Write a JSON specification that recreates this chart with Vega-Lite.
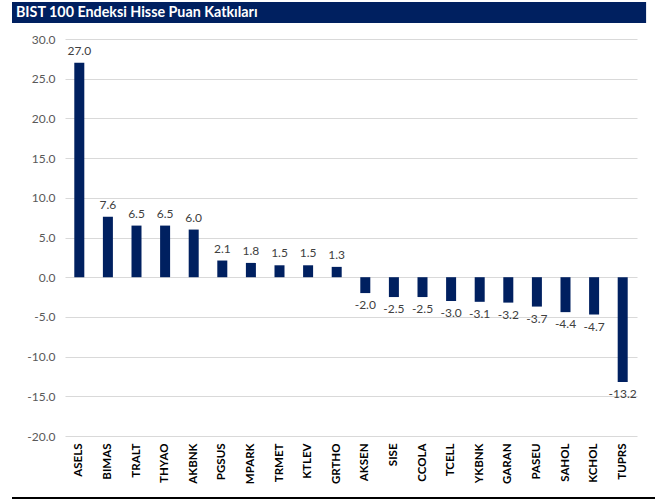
{
  "$schema": "https://vega.github.io/schema/vega-lite/v6.json",
  "background": "white",
  "padding": {"left": 12, "top": 2, "right": 12, "bottom": 1},
  "config": {
    "font": "Lato",
    "view": {"stroke": null},
    "locale": {"number": {"decimal": ".", "thousands": ",", "grouping": [3], "currency": ["$", ""], "minus": "-"}}
  },
  "datasets": {
    "bars": [
      {"hisse": "ASELS", "katki": 27.0},
      {"hisse": "BIMAS", "katki": 7.6},
      {"hisse": "TRALT", "katki": 6.5},
      {"hisse": "THYAO", "katki": 6.5},
      {"hisse": "AKBNK", "katki": 6.0},
      {"hisse": "PGSUS", "katki": 2.1},
      {"hisse": "MPARK", "katki": 1.8},
      {"hisse": "TRMET", "katki": 1.5},
      {"hisse": "KTLEV", "katki": 1.5},
      {"hisse": "GRTHO", "katki": 1.3},
      {"hisse": "AKSEN", "katki": -2.0},
      {"hisse": "SISE", "katki": -2.5},
      {"hisse": "CCOLA", "katki": -2.5},
      {"hisse": "TCELL", "katki": -3.0},
      {"hisse": "YKBNK", "katki": -3.1},
      {"hisse": "GARAN", "katki": -3.2},
      {"hisse": "PASEU", "katki": -3.7},
      {"hisse": "SAHOL", "katki": -4.4},
      {"hisse": "KCHOL", "katki": -4.7},
      {"hisse": "TUPRS", "katki": -13.2}
    ],
    "banner": [{"t": "BIST 100 Endeksi Hisse Puan Katkıları", "x0": 0, "x1": 642, "xt": 4}],
    "footer": [{"x0": 0, "x1": 643, "y0": 0, "y1": 2}]
  },
  "concat": [
    {
      "width": 589,
      "height": 21,
      "data": {"name": "banner"},
      "layer": [
        {
          "mark": {"type": "rect", "color": "#002060"},
          "encoding": {
            "x": {"field": "x0", "type": "quantitative", "scale": {"domain": [0, 642], "range": [-53, 589]}, "axis": null},
            "x2": {"field": "x1"}
          }
        },
        {
          "mark": {"type": "text", "color": "white", "fontWeight": "bold", "fontSize": 14.3, "align": "left", "baseline": "middle"},
          "encoding": {
            "x": {"field": "xt", "type": "quantitative"},
            "text": {"field": "t"}
          }
        }
      ]
    },
    {
      "width": 572,
      "height": 397,
      "data": {"name": "bars"},
      "encoding": {
        "x": {
          "field": "hisse", "type": "nominal", "sort": null,
          "scale": {"paddingInner": 0, "paddingOuter": 0},
          "axis": {"title": null, "labelAngle": -90, "labelFontWeight": "bold", "labelFontSize": 11.5, "labelColor": "#000000", "ticks": false, "domain": false, "labelPadding": 7}
        },
        "y": {
          "field": "katki", "type": "quantitative",
          "scale": {"domain": [-20, 30], "nice": false, "zero": false},
          "axis": {"title": null, "values": [-20, -15, -10, -5, 0, 5, 10, 15, 20, 25, 30], "format": ".1f", "ticks": false, "domain": false, "labelFontSize": 12, "labelColor": "#595959", "labelPadding": 10, "gridColor": "#d9d9d9", "gridWidth": 1}
        }
      },
      "layer": [
        {"mark": {"type": "bar", "color": "#002060", "width": {"band": 0.35}}},
        {
          "transform": [{"filter": "datum.katki >= 0"}],
          "mark": {"type": "text", "baseline": "alphabetic", "dy": -8, "fontSize": 12, "color": "#404040"},
          "encoding": {"text": {"field": "katki", "type": "quantitative", "format": ".1f"}}
        },
        {
          "transform": [{"filter": "datum.katki < 0"}],
          "mark": {"type": "text", "baseline": "top", "dy": 7, "fontSize": 12, "color": "#404040"},
          "encoding": {"text": {"field": "katki", "type": "quantitative", "format": ".1f"}}
        }
      ]
    },
    {
      "width": 590,
      "height": 5,
      "data": {"name": "footer"},
      "mark": {"type": "rect", "color": "#000000"},
      "encoding": {
        "x": {"field": "x0", "type": "quantitative", "scale": {"domain": [0, 643], "range": [-53, 590]}, "axis": null},
        "x2": {"field": "x1"},
        "y": {"field": "y0", "type": "quantitative", "scale": {"domain": [0, 5]}, "axis": null},
        "y2": {"field": "y1"}
      }
    }
  ],
  "columns": 1,
  "spacing": 10
}
